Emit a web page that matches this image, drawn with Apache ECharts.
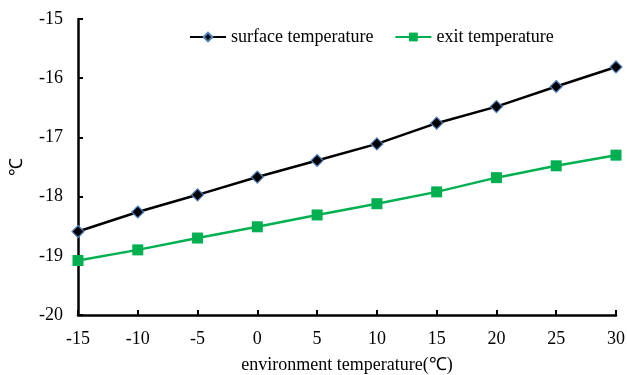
<!DOCTYPE html>
<html>
<head>
<meta charset="utf-8">
<script src="https://cdn.jsdelivr.net/npm/echarts@6/dist/echarts.min.js"></script>
<style>
  html, body { margin: 0; padding: 0; background: #fff; }
  #chart { width: 627px; height: 375px; }
</style>
</head>
<body>
<div id="chart"></div>
<script>
// Environment temperature (°C) on the x axis
const categories = ['-15', '-10', '-5', '0', '5', '10', '15', '20', '25', '30'];
// Surface temperature readings (°C)
const surfaceTemp = [-18.59, -18.26, -17.97, -17.67, -17.39, -17.11, -16.76, -16.48, -16.14, -15.81];
// Exit temperature readings (°C)
const exitTemp = [-19.08, -18.90, -18.70, -18.51, -18.31, -18.12, -17.92, -17.68, -17.48, -17.30];

const font = 'Liberation Serif, Times New Roman, serif';
const chart = echarts.init(document.getElementById('chart'));
chart.setOption({
  animation: false,
  textStyle: { fontFamily: font },
  grid: { left: 78, right: 11, top: 19, bottom: 60, outerBoundsMode: 'none', containLabel: false },
  legend: {
    left: 184,
    top: 23,
    itemGap: 21,
    itemWidth: 36,
    itemHeight: 11,
    textStyle: { fontFamily: font, fontSize: 18, color: '#000' },
    data: ['surface temperature', 'exit temperature']
  },
  xAxis: {
    type: 'category',
    data: categories,
    boundaryGap: false,
    name: 'environment temperature(℃)',
    nameLocation: 'middle',
    nameGap: 41,
    nameTextStyle: { fontFamily: font, fontSize: 18, color: '#000' },
    axisLine: { lineStyle: { color: '#000', width: 2.5 } },
    axisTick: { inside: true, length: 5, lineStyle: { color: '#000', width: 2 } },
    axisLabel: { fontFamily: font, fontSize: 18, color: '#000', margin: 15 },
    splitLine: { show: false }
  },
  yAxis: {
    type: 'value',
    min: -20,
    max: -15,
    interval: 1,
    name: '℃',
    nameLocation: 'middle',
    nameRotate: 90,
    nameGap: 52,
    nameTextStyle: { fontFamily: font, fontSize: 18, color: '#000' },
    axisLine: { show: true, lineStyle: { color: '#000', width: 2.5 } },
    axisTick: { show: true, inside: true, length: 5, lineStyle: { color: '#000', width: 2 } },
    axisLabel: { fontFamily: font, fontSize: 18, color: '#000', margin: 15 },
    splitLine: { show: false }
  },
  series: [
    {
      name: 'surface temperature',
      type: 'line',
      data: surfaceTemp,
      symbol: 'diamond',
      symbolSize: 12,
      lineStyle: { color: '#000', width: 2.5 },
      itemStyle: { color: '#000', borderColor: '#4f81bd', borderWidth: 1.2 }
    },
    {
      name: 'exit temperature',
      type: 'line',
      data: exitTemp,
      symbol: 'rect',
      symbolSize: 11,
      lineStyle: { color: '#00b050', width: 2.5 },
      itemStyle: { color: '#00b050' }
    }
  ]
});
</script>
</body>
</html>
